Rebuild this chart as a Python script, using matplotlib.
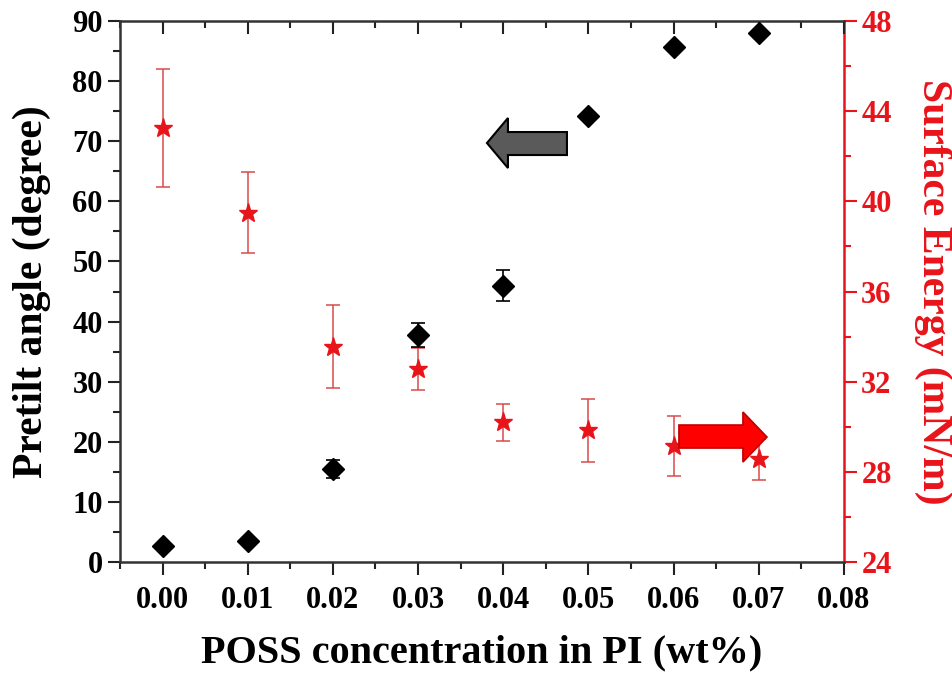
import numpy as np
import matplotlib.pyplot as plt
from matplotlib.patches import Polygon
from matplotlib.ticker import MultipleLocator

plt.rcParams['font.family'] = ['Liberation Serif', 'DejaVu Serif']
plt.rcParams['font.weight'] = 'bold'

# data
conc = [0.00, 0.01, 0.02, 0.03, 0.04, 0.05, 0.06, 0.07]
pretilt = [2.6, 3.5, 15.5, 37.7, 46.0, 74.2, 85.7, 88.0]
pretilt_err = [0.0, 0.0, 1.5, 2.0, 2.5, 0.0, 0.0, 0.0]
energy = [43.25, 39.5, 33.55, 32.55, 30.2, 29.85, 29.15, 28.55]
energy_err = [2.6, 1.8, 1.85, 0.93, 0.82, 1.4, 1.33, 0.9]

red = '#e8141a'

fig = plt.figure(figsize=(9.52, 6.76), dpi=100)
ax = fig.add_axes([0.126, 0.1686, 0.7605, 0.8003])
ax2 = ax.twinx()

# red stars on right axis
ax2.errorbar(conc, energy, yerr=energy_err, fmt='*', color=red, ms=14,
             ecolor='#d84a4a', elinewidth=1.1, capsize=5, capthick=1.1, zorder=2)
ax.set_zorder(ax2.get_zorder() + 1)
ax.patch.set_visible(False)
ax.errorbar(conc, pretilt, yerr=pretilt_err, fmt='D', color='black', ms=11,
            ecolor='black', elinewidth=1.2, capsize=5, capthick=1.2, zorder=3)

ax.set_xlim(-0.005, 0.08)
ax.set_ylim(0, 90)
ax2.set_ylim(24, 48)

ax.xaxis.set_minor_locator(MultipleLocator(0.005))
ax.yaxis.set_major_locator(MultipleLocator(10))
ax.yaxis.set_minor_locator(MultipleLocator(5))
ax2.yaxis.set_major_locator(MultipleLocator(4))
ax2.yaxis.set_minor_locator(MultipleLocator(2))
xt = np.arange(0, 0.081, 0.01)
ax.set_xticks(xt)
ax.set_xticklabels(['%.2f' % v for v in xt])

ax.tick_params(axis='x', which='both', direction='out', top=True, labelsize=22,
               width=1.5, color='#222222', pad=8)
ax.tick_params(axis='x', which='major', length=9)
ax.tick_params(axis='x', which='minor', length=5)
ax.tick_params(axis='y', which='major', direction='out', length=9, width=1.5,
               labelsize=22, color='#222222')
ax.tick_params(axis='y', which='minor', direction='out', length=5, width=1.5,
               color='#222222')
ax2.tick_params(axis='y', which='major', direction='out', length=9, width=1.5,
                labelsize=22, colors=red)
ax2.tick_params(axis='y', which='minor', direction='out', length=5, width=1.5,
                colors=red)

# top ticks point inward
for t in ax.xaxis.get_major_ticks() + ax.xaxis.get_minor_ticks():
    t.tick2line.set_marker(3)

for s in ['left', 'bottom', 'top']:
    ax.spines[s].set_linewidth(1.8)
    ax.spines[s].set_color('#333333')
    ax2.spines[s].set_visible(False)
ax2.spines['right'].set_color(red)
ax2.spines['right'].set_linewidth(1.8)
ax.spines['right'].set_visible(False)

ax.set_xlabel('POSS concentration in PI (wt%)', fontsize=29, fontweight='bold',
              labelpad=14)
ax.set_ylabel('Pretilt angle (degree)', fontsize=30, fontweight='bold', labelpad=15)
ax2.set_ylabel('Surface Energy (mN/m)', fontsize=30, fontweight='bold', color=red,
               rotation=270, labelpad=44)


def px(x, y):
    return ((x - 120) / 724, (562 - y) / 541)


gray_arrow = [px(487, 143), px(508, 118), px(508, 132), px(567, 132),
              px(567, 155), px(508, 155), px(508, 168)]
red_arrow = [px(767, 437), px(743, 412), px(743, 425), px(679, 425),
             px(679, 448), px(743, 448), px(743, 462)]
ax.add_patch(Polygon(gray_arrow, closed=True, transform=ax.transAxes,
                     facecolor='#5a5a5a', edgecolor='black', lw=1.5, zorder=5))
ax.add_patch(Polygon(red_arrow, closed=True, transform=ax.transAxes,
                     facecolor='#ff0000', edgecolor='#c00000', lw=1.2, zorder=5))

fig.savefig('out.png', dpi=100)
